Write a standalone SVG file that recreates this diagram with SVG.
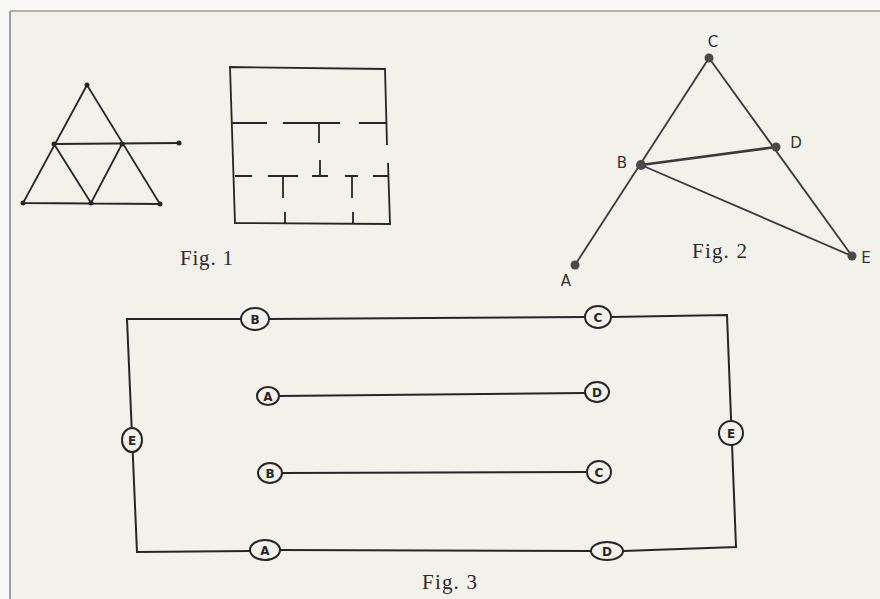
<svg xmlns="http://www.w3.org/2000/svg" width="880" height="599" viewBox="0 0 880 599">
<style>
.ln{stroke:#262626;stroke-width:1.8;fill:none;stroke-linecap:round}
.l2{stroke:#3a3a3a;stroke-width:1.8;fill:none}
.dot{fill:#262626}
.pt{fill:#4a4a48}
.ov{fill:#f2f1ea;stroke:#262626;stroke-width:2}
.ot{font-family:"DejaVu Sans","Liberation Sans",sans-serif;font-size:12px;font-weight:bold;fill:#262626;text-anchor:middle}
.lab{font-family:"DejaVu Sans","Liberation Sans",sans-serif;font-size:15px;fill:#333;text-anchor:middle}
.cap{font-family:"Liberation Serif","DejaVu Serif",serif;font-size:21px;fill:#2a2a2a}
</style>
<rect x="0" y="0" width="880" height="599" fill="#f9f9f7"/>
<rect x="10" y="11" width="870" height="588" fill="#f2f1ea"/>
<line x1="10" y1="11" x2="880" y2="11" stroke="#9a9a9a" stroke-width="1.5"/>
<line x1="10" y1="11" x2="10" y2="599" stroke="#9aa0a6" stroke-width="2"/>

<g id="fig1-triangle">
<path class="ln" d="M87 85 L23 203 L160 204 Z M54 144 L179 143 M54 144 L91 203 L122 144"/>
<circle class="dot" cx="87" cy="85" r="2.5"/>
<circle class="dot" cx="54" cy="144" r="2.5"/>
<circle class="dot" cx="122" cy="144" r="2.5"/>
<circle class="dot" cx="179" cy="143" r="2.5"/>
<circle class="dot" cx="23" cy="203" r="2.5"/>
<circle class="dot" cx="91" cy="203" r="2.5"/>
<circle class="dot" cx="160" cy="204" r="2.5"/>
</g>

<g id="fig1-maze">
<path class="ln" style="stroke-linecap:butt" d="M387 145 L385 69 L230 67 L235 223 L390 224 L388 163
M232 123 H267 M283 123 H340 M359 123 H387 M319 123 V143
M235 176 H252 M268 176 H298 M312 176 H328 M345 176 H358 M373 176 H389
M320 160 V176 M283 176 V198 M352 176 V198 M285 212 V223 M353 212 V224"/>
</g>
<text class="cap" x="180" y="265" textLength="53">Fig. 1</text>

<g id="connectors">
<path class="l2" d="M709 58 L575 265"/>
<path class="l2" d="M709 58 L852 256"/>
<path class="l2" d="M641 165 L852 256"/>
<path class="l2" style="stroke-width:2.6" d="M641 165 L776 147"/>
<path class="ln" style="stroke-width:2" d="M241 319 L127 319 L137 552 L250 551 M269 319 L585 317 M611 317 L727 315 L736 547 L623 551 M591 551 L280 550"/>
<path class="ln" style="stroke-width:2" d="M279 396 L585 393 M282 473 L587 472"/>
</g>

<g id="fig2-C"><circle class="pt" cx="709" cy="58" r="4.5"/><text class="lab" x="713" y="47">C</text></g>
<g id="fig2-D"><circle class="pt" cx="776" cy="147" r="4.5"/><text class="lab" x="796" y="148">D</text></g>
<g id="fig2-B"><circle class="pt" cx="641" cy="165" r="5"/><text class="lab" x="622" y="168">B</text></g>
<g id="fig2-E"><circle class="pt" cx="852" cy="256" r="4.5"/><text class="lab" x="866" y="263">E</text></g>
<g id="fig2-A"><circle class="pt" cx="575" cy="265" r="4.5"/><text class="lab" x="566" y="286">A</text></g>
<text class="cap" x="692" y="258" textLength="55">Fig. 2</text>

<g id="fig3-B-top"><ellipse class="ov" cx="255" cy="319" rx="14" ry="11"/><text class="ot" x="255" y="323.5">B</text></g>
<g id="fig3-C-top"><ellipse class="ov" cx="598" cy="317" rx="13" ry="11"/><text class="ot" x="598" y="321.5">C</text></g>
<g id="fig3-E-left"><ellipse class="ov" cx="132" cy="440" rx="10" ry="12"/><text class="ot" x="132" y="444.5">E</text></g>
<g id="fig3-E-right"><ellipse class="ov" cx="731" cy="433" rx="12" ry="12"/><text class="ot" x="731" y="437.5">E</text></g>
<g id="fig3-A-bottom"><ellipse class="ov" cx="265" cy="550" rx="15" ry="10"/><text class="ot" x="265" y="554.5">A</text></g>
<g id="fig3-D-bottom"><ellipse class="ov" cx="607" cy="551" rx="16" ry="9"/><text class="ot" x="607" y="555.5">D</text></g>
<g id="fig3-A-inner"><ellipse class="ov" cx="268" cy="396" rx="11" ry="9"/><text class="ot" x="268" y="400.5">A</text></g>
<g id="fig3-D-inner"><ellipse class="ov" cx="597" cy="392" rx="12" ry="10"/><text class="ot" x="597" y="396.5">D</text></g>
<g id="fig3-B-inner"><ellipse class="ov" cx="270" cy="473" rx="12" ry="10"/><text class="ot" x="270" y="477.5">B</text></g>
<g id="fig3-C-inner"><ellipse class="ov" cx="599" cy="472" rx="12" ry="11"/><text class="ot" x="599" y="476.5">C</text></g>
<text class="cap" x="422" y="589" textLength="55">Fig. 3</text>
</svg>
